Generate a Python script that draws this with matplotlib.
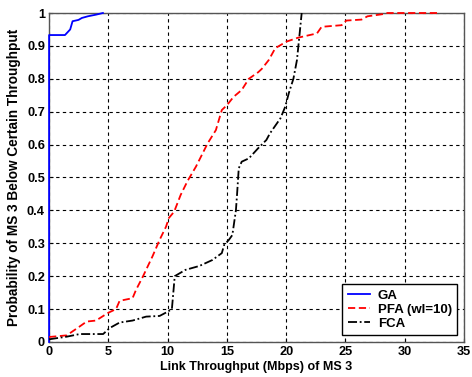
import matplotlib
matplotlib.use("Agg")
import matplotlib.pyplot as plt

# GA
ga_x = [0, 0, 1.34, 1.78, 1.98, 2.48, 2.77, 3.27, 3.96, 4.54]
ga_y = [0, 0.933, 0.933, 0.95, 0.975, 0.979, 0.985, 0.99, 0.995, 1.0]

# PFA (wl=10)
pfa_x = [0, 1.49, 2.58, 3.17, 3.96, 4.96, 5.65, 5.95, 7.04, 7.33, 7.93, 8.72, 9.32, 9.86,
         10.11, 10.55, 11.1, 11.69, 12.39, 13.38, 14.07, 14.57, 15.01, 15.56, 16.25, 16.85,
         17.64, 17.94, 18.53, 19.08, 20.02, 21.01, 22.6, 22.99, 24.68, 25.07, 26.36, 26.86,
         28.24, 28.54, 32.9]
pfa_y = [0.015, 0.02, 0.047, 0.062, 0.065, 0.088, 0.10, 0.125, 0.133, 0.158, 0.20, 0.26,
         0.31, 0.35, 0.377, 0.396, 0.447, 0.49, 0.533, 0.604, 0.644, 0.705, 0.72, 0.745,
         0.766, 0.80, 0.82, 0.83, 0.857, 0.893, 0.913, 0.925, 0.938, 0.958, 0.963, 0.977,
         0.98, 0.99, 0.997, 1.0, 1.0]

# FCA
fca_x = [0, 1.49, 2.58, 4.56, 5.1, 5.95, 7.04, 8.19, 9.32, 10.01, 10.36, 10.6, 11.5, 12.68,
         13.77, 14.57, 14.77, 15.16, 15.46, 15.76, 15.86, 16.0, 16.25, 16.85, 17.64, 18.33,
         18.63, 19.52, 19.92, 20.22, 20.61, 20.91, 21.11, 21.31]
fca_y = [0.008, 0.016, 0.024, 0.024, 0.042, 0.059, 0.065, 0.077, 0.079, 0.092, 0.10, 0.20,
         0.219, 0.231, 0.249, 0.27, 0.295, 0.31, 0.325, 0.40, 0.45, 0.528, 0.548, 0.558,
         0.589, 0.614, 0.634, 0.68, 0.715, 0.756, 0.80, 0.857, 0.928, 1.0]

xticks = [0, 5, 10, 15, 20, 25, 30, 35]
yticks = [0, 0.1, 0.2, 0.3, 0.4, 0.5, 0.6, 0.7, 0.8, 0.9, 1.0]
ytick_labels = ["0", "0.1", "0.2", "0.3", "0.4", "0.5", "0.6", "0.7", "0.8", "0.9", "1"]

plt.rcParams['font.family'] = ['Liberation Sans', 'DejaVu Sans']
plt.rcParams['font.weight'] = 'bold'

fig = plt.figure(figsize=(4.72, 3.77), dpi=100)
ax = fig.add_axes([0.104, 0.093, 0.879, 0.8725])

ax.plot(ga_x, ga_y, color='#0000ff', lw=1.3, label='GA', clip_on=False, zorder=4)
ax.plot(pfa_x, pfa_y, color='#ff0000', lw=1.3, ls=(0, (4, 2)), label='PFA (wl=10)',
        clip_on=False, zorder=4)
ax.plot(fca_x, fca_y, color='black', lw=1.3, ls=(0, (5, 1.5, 1, 1.5)), label='FCA',
        clip_on=False, zorder=4)

ax.set_xlim(0, 35)
ax.set_ylim(0, 1)
ax.set_xticks(xticks)
ax.set_yticks(yticks)
ax.set_yticklabels(ytick_labels)
ax.tick_params(direction='in', length=3, labelsize=9.2, pad=3)
for lab in ax.get_xticklabels() + ax.get_yticklabels():
    lab.set_fontweight('bold')
ax.grid(True, color='black', ls=(0, (3, 3)), lw=0.8)
for s in ax.spines.values():
    s.set_color('#555555')
    s.set_linewidth(1.0)

ax.set_xlabel('Link Throughput (Mbps) of MS 3', fontsize=9, fontweight='bold', labelpad=2)
ax.set_ylabel('Probability of MS 3 Below Certain Throughput', fontsize=9.8,
              fontweight='bold', labelpad=4)

leg = ax.legend(loc='lower right', fontsize=9.5, fancybox=False, edgecolor='black',
                framealpha=1, borderaxespad=0.5, handlelength=1.7, handletextpad=0.6,
                labelspacing=0.15, borderpad=0.4)
leg.get_frame().set_linewidth(1.0)
leg.set_zorder(5)

fig.savefig('out.png', dpi=100, facecolor='white')
